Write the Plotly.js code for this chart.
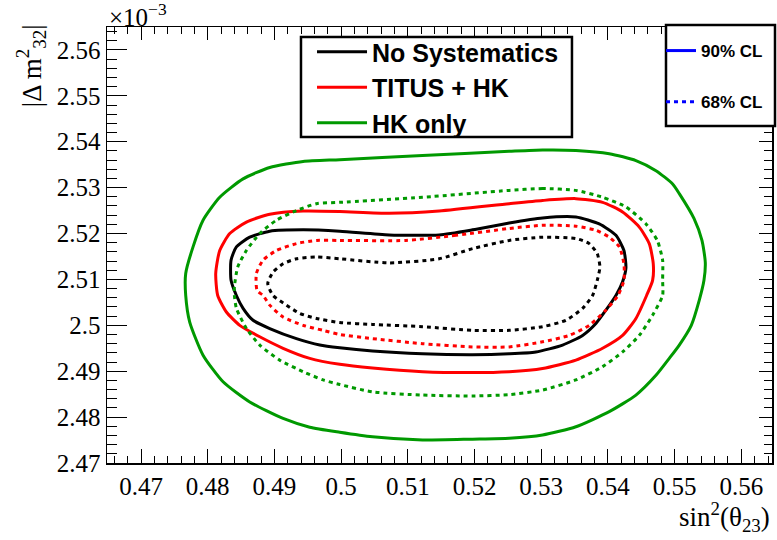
<!DOCTYPE html>
<html>
<head>
<meta charset="utf-8">
<script src="https://cdn.plot.ly/plotly-3.0.1.min.js"></script>
<style>html,body{margin:0;padding:0;background:#fff;}#chart{width:777px;height:540px;}</style>
</head>
<body>
<div id="chart"></div>
<script>
// Contour series (x = sin^2(theta23), y = |dm^2_32| in units of 1e-3 eV^2)
const seriesNames = ["No Systematics", "TITUS + HK", "HK only"];
const clNames = ["90% CL", "68% CL"];

// No Systematics 90% CL
const xNoSys90 = [0.5252,0.5197,0.5147,0.5072,0.4998,0.4943,0.4893,0.4863,0.4843,0.4835,0.4835,0.4843,0.4853,0.4868,0.4893,0.4933,0.4968,0.4998,0.5047,0.5122,0.5197,0.5252,0.5292,0.5332,0.5362,0.5382,0.5397,0.5412,0.5422,0.5427,0.5424,0.5412,0.5387,0.5352,0.5302,0.5252];
const yNoSys90 = [2.5223,2.5208,2.5197,2.5197,2.5205,2.5208,2.5205,2.5192,2.5171,2.5142,2.5098,2.5065,2.5037,2.5011,2.4993,2.4971,2.4957,2.4951,2.4944,2.4938,2.4936,2.4938,2.4942,2.4957,2.4978,2.5004,2.5033,2.5065,2.5095,2.5125,2.5163,2.5196,2.5221,2.5236,2.5234,2.5223];
// No Systematics 68% CL
const xNoSys68 = [0.5252,0.5197,0.5147,0.5072,0.4998,0.4963,0.4933,0.4913,0.4898,0.4890,0.4898,0.4918,0.4938,0.4963,0.4998,0.5047,0.5122,0.5197,0.5252,0.5302,0.5337,0.5362,0.5377,0.5384,0.5388,0.5384,0.5372,0.5352,0.5302,0.5252];
const yNoSys68 = [2.5185,2.5167,2.5145,2.5136,2.5145,2.5149,2.5145,2.5134,2.5116,2.5091,2.5065,2.5044,2.5026,2.5015,2.5006,2.5002,2.4997,2.4989,2.4989,2.4997,2.5011,2.5037,2.5065,2.5098,2.5127,2.5156,2.5178,2.5189,2.5192,2.5185];
// TITUS + HK 90% CL
const xTitus90 = [0.5252,0.5147,0.5072,0.4998,0.4943,0.4893,0.4858,0.4833,0.4818,0.4812,0.4815,0.4828,0.4848,0.4878,0.4913,0.4953,0.4998,0.5047,0.5122,0.5197,0.5252,0.5302,0.5352,0.5392,0.5422,0.5442,0.5458,0.5467,0.5468,0.5462,0.5447,0.5422,0.5392,0.5352,0.5302,0.5252];
const yTitus90 = [2.5265,2.5249,2.5244,2.5248,2.5249,2.5242,2.5225,2.5200,2.5163,2.5113,2.5065,2.5029,2.5000,2.4975,2.4950,2.4928,2.4915,2.4907,2.4899,2.4897,2.4899,2.4906,2.4924,2.4950,2.4978,2.5015,2.5065,2.5098,2.5134,2.5178,2.5214,2.5247,2.5268,2.5276,2.5272,2.5265];
// TITUS + HK 68% CL
const xTitus68 = [0.5252,0.5172,0.5097,0.4998,0.4963,0.4933,0.4903,0.4883,0.4873,0.4874,0.4883,0.4893,0.4913,0.4943,0.4973,0.4998,0.5047,0.5122,0.5197,0.5252,0.5302,0.5342,0.5372,0.5397,0.5415,0.5424,0.5424,0.5417,0.5402,0.5382,0.5352,0.5302,0.5252];
const yTitus68 = [2.5211,2.5196,2.5185,2.5185,2.5185,2.5178,2.5163,2.5142,2.5113,2.5076,2.5065,2.5044,2.5018,2.5000,2.4989,2.4980,2.4971,2.4960,2.4953,2.4953,2.4964,2.4978,2.5000,2.5033,2.5065,2.5098,2.5134,2.5171,2.5192,2.5207,2.5216,2.5218,2.5211];
// HK only 90% CL
const xHK90 = [0.5302,0.5252,0.5122,0.4998,0.4943,0.4893,0.4853,0.4818,0.4793,0.4778,0.4767,0.4767,0.4773,0.4793,0.4823,0.4863,0.4913,0.4953,0.4998,0.5047,0.5122,0.5197,0.5252,0.5302,0.5352,0.5402,0.5442,0.5472,0.5492,0.5507,0.5525,0.5537,0.5544,0.5546,0.5541,0.5529,0.5507,0.5497,0.5472,0.5442,0.5402,0.5352,0.5302];
const yHK90 = [2.5382,2.5379,2.5370,2.5361,2.5357,2.5344,2.5319,2.5279,2.5229,2.5171,2.5113,2.5065,2.5007,2.4935,2.4877,2.4833,2.4797,2.4778,2.4767,2.4757,2.4750,2.4752,2.4754,2.4761,2.4779,2.4812,2.4848,2.4891,2.4928,2.4957,2.5000,2.5055,2.5098,2.5137,2.5185,2.5233,2.5287,2.5308,2.5337,2.5359,2.5374,2.5381,2.5382];
// HK only 68% CL
const xHK68 = [0.5352,0.5302,0.5252,0.5122,0.4998,0.4963,0.4933,0.4903,0.4878,0.4858,0.4845,0.4840,0.4840,0.4843,0.4858,0.4878,0.4908,0.4943,0.4973,0.4998,0.5047,0.5122,0.5197,0.5252,0.5302,0.5352,0.5392,0.5422,0.5447,0.5467,0.5482,0.5482,0.5482,0.5474,0.5457,0.5427,0.5392,0.5352];
const yHK68 = [2.5294,2.5298,2.5294,2.5279,2.5268,2.5265,2.5250,2.5229,2.5200,2.5163,2.5127,2.5084,2.5065,2.5037,2.4993,2.4957,2.4924,2.4899,2.4881,2.4871,2.4855,2.4848,2.4846,2.4849,2.4859,2.4881,2.4910,2.4942,2.4978,2.5022,2.5065,2.5098,2.5142,2.5185,2.5221,2.5258,2.5279,2.5294];

const colors = ["black", "rgb(255,0,0)", "rgb(0,153,0)"];
const dotted = "4px,4px";

function contour(x, y, name, color, dash, legend, show) {
  return {
    type: "scatter", mode: "lines", x: x, y: y, name: name,
    line: {color: color, width: 3, dash: dash, shape: "spline", smoothing: 0.6},
    showlegend: show, legend: legend, hoverinfo: "skip"
  };
}

const traces = [
  contour(xNoSys90, yNoSys90, seriesNames[0], colors[0], "solid", "legend", true),
  contour(xTitus90, yTitus90, seriesNames[1], colors[1], "solid", "legend", true),
  contour(xHK90, yHK90, seriesNames[2], colors[2], "solid", "legend", true),
  contour(xNoSys68, yNoSys68, seriesNames[0], colors[0], dotted, "legend", false),
  contour(xTitus68, yTitus68, seriesNames[1], colors[1], dotted, "legend", false),
  contour(xHK68, yHK68, seriesNames[2], colors[2], dotted, "legend", false),
  {type: "scatter", mode: "lines", x: [null], y: [null], name: clNames[0],
   line: {color: "rgb(0,0,255)", width: 3, dash: "solid"}, legend: "legend2", legendgroup: "a", showlegend: true},
  {type: "scatter", mode: "lines", x: [null], y: [null], name: clNames[1],
   line: {color: "rgb(0,0,255)", width: 3, dash: dotted}, legend: "legend2", legendgroup: "b", showlegend: true},
  {type: "scatter", mode: "lines", x: [null], y: [null], xaxis: "x2", yaxis: "y2", showlegend: false, hoverinfo: "skip"}
];

const xRange = [0.4649, 0.5646];
const yRange = [2.47, 2.565];
const serif = "Liberation Serif, Times New Roman, serif";
const sans = "Liberation Sans, Arial, sans-serif";

function axis(extra) {
  return Object.assign({
    showgrid: false, zeroline: false, showline: true, linecolor: "black", linewidth: 1.5,
    ticks: "inside", tickcolor: "black", tickwidth: 1, dtick: 0.01,
    tickfont: {family: serif, size: 25, color: "black"}
  }, extra);
}

const layout = {
  width: 777, height: 540,
  margin: {l: 107, r: 5, t: 27, b: 77},
  paper_bgcolor: "white", plot_bgcolor: "white",
  showlegend: true,
  xaxis: axis({range: xRange, tick0: 0.47, ticklen: 14,
    minor: {dtick: 0.002, tick0: 0.47, ticks: "inside", ticklen: 7, tickcolor: "black", showgrid: false}}),
  yaxis: axis({range: yRange, tick0: 2.47, ticklen: 20,
    minor: {dtick: 0.002, tick0: 2.47, ticks: "inside", ticklen: 10, tickcolor: "black", showgrid: false}}),
  xaxis2: axis({range: xRange, tick0: 0.47, ticklen: 13, overlaying: "x", side: "top", anchor: "y2", showticklabels: false,
    minor: {dtick: 0.002, tick0: 0.47, ticks: "inside", ticklen: 7, tickcolor: "black", showgrid: false}}),
  yaxis2: axis({range: yRange, tick0: 2.47, ticklen: 13, overlaying: "y", side: "right", anchor: "x2", showticklabels: false,
    minor: {dtick: 0.002, tick0: 2.47, ticks: "inside", ticklen: 8, tickcolor: "black", showgrid: false}}),
  legend: {x: 0.3083, y: 0.9954, xanchor: "left", yanchor: "top", bgcolor: "rgba(0,0,0,0)",
    borderwidth: 0, traceorder: "normal", itemwidth: 50,
    font: {family: sans, size: 25, color: "black", weight: "bold"}},
  legend2: {x: 0.8331, y: 0.9862, xanchor: "left", yanchor: "top", bgcolor: "rgba(0,0,0,0)",
    borderwidth: 0, traceorder: "grouped", tracegroupgap: 26,
    font: {family: sans, size: 17, color: "black", weight: "bold"}},
  shapes: [
    {type: "rect", xref: "paper", yref: "paper", x0: 0.2917, x1: 0.6992, y0: 0.7477, y1: 0.9771,
     line: {color: "black", width: 2.5}, fillcolor: "white", layer: "above"},
    {type: "rect", xref: "paper", yref: "paper", x0: 0.8406, x1: 1.0045, y0: 0.7729, y1: 1.0046,
     line: {color: "black", width: 2.5}, fillcolor: "white", layer: "above"}
  ],
  annotations: [
    {text: "×10<sup>−3</sup>", xref: "paper", yref: "paper", x: 0, y: 1, xanchor: "left", yanchor: "bottom",
     showarrow: false, font: {family: serif, size: 25, color: "black"}, yshift: -6},
    {text: "sin<sup>2</sup>(θ<sub>23</sub>)", xref: "paper", yref: "paper", x: 1, y: -0.124, xanchor: "right", yanchor: "middle",
     showarrow: false, font: {family: serif, size: 27, color: "black"}},
    {text: "|Δ m<sup>2</sup><sub>32</sub>|", xref: "paper", yref: "paper", x: -0.114, y: 0.9106, xanchor: "center", yanchor: "middle",
     textangle: -90, showarrow: false, font: {family: serif, size: 27, color: "black"}}
  ]
};

Plotly.newPlot("chart", traces, layout, {staticPlot: true, displayModeBar: false});
</script>
</body>
</html>
